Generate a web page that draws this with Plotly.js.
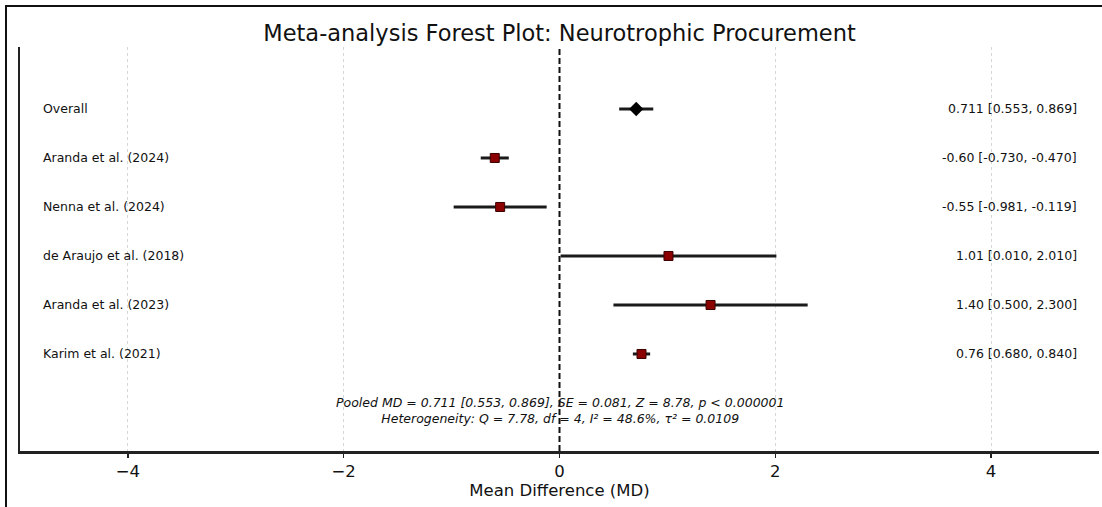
<!DOCTYPE html>
<html>
<head>
<meta charset="utf-8">
<script src="https://cdn.plot.ly/plotly-3.0.1.min.js"></script>
<style>
  html, body { margin: 0; padding: 0; background: #fff; overflow: hidden; }
  #wrap { position: relative; width: 1102px; height: 507px; }
  #chart { width: 1102px; height: 507px; }
  #frame { position: absolute; left: 5px; top: 5px; width: 1110px; height: 520px;
           border-left: 2px solid #111; border-top: 2px solid #111; pointer-events: none; }
</style>
</head>
<body>
<div id="wrap"><div id="chart"></div><div id="frame"></div></div>
<script>
// ---- data ----
const studies   = ["Overall", "Aranda et al. (2024)", "Nenna et al. (2024)", "de Araujo et al. (2018)", "Aranda et al. (2023)", "Karim et al. (2021)"];
const md        = [0.711, -0.60, -0.55, 1.01, 1.40, 0.76];
const ciLow     = [0.553, -0.730, -0.981, 0.010, 0.500, 0.680];
const ciHigh    = [0.869, -0.470, -0.119, 2.010, 2.300, 0.840];
const rightText = ["0.711 [0.553, 0.869]", "-0.60 [-0.730, -0.470]", "-0.55 [-0.981, -0.119]", "1.01 [0.010, 2.010]", "1.40 [0.500, 2.300]", "0.76 [0.680, 0.840]"];
const statsLines = ["Pooled MD = 0.711 [0.553, 0.869], SE = 0.081, Z = 8.78, p < 0.000001",
                    "Heterogeneity: Q = 7.78, df = 4, I² = 48.6%, τ² = 0.0109"];
const xTicks = [-4, -2, 0, 2, 4];
const xTickText = ["−4", "−2", "0", "2", "4"];
const gridVals = [-4, -2, 2, 4];

const rows = studies.map((_, i) => i);
const FONT = "DejaVu Sans, sans-serif";

const sIdx = rows.slice(1);
const studyTrace = {
  type: "scatter", mode: "markers",
  x: sIdx.map(i => md[i]), y: sIdx,
  error_x: { type: "data", symmetric: false,
             array: sIdx.map(i => ciHigh[i] - md[i]),
             arrayminus: sIdx.map(i => md[i] - ciLow[i]),
             color: "#1a1a1a", thickness: 3, width: 0 },
  marker: { symbol: "square", size: 9, color: "#8b0000", line: { color: "#3a0000", width: 1 } },
  hoverinfo: "skip", showlegend: false
};
const overallTrace = {
  type: "scatter", mode: "markers",
  x: [md[0]], y: [0],
  error_x: { type: "data", symmetric: false,
             array: [ciHigh[0] - md[0]], arrayminus: [md[0] - ciLow[0]],
             color: "#1a1a1a", thickness: 3, width: 0 },
  marker: { symbol: "diamond", size: 11, color: "#000" },
  hoverinfo: "skip", showlegend: false
};

const annotations = [];
studies.forEach((s, i) => {
  annotations.push({ x: -4.81, y: i, xref: "x", yref: "y", text: s, showarrow: false,
    xanchor: "left", yanchor: "middle", font: { family: FONT, size: 12.5, color: "#111" } });
  annotations.push({ x: 4.81, y: i, xref: "x", yref: "y", text: rightText[i], showarrow: false,
    xanchor: "right", yanchor: "middle", font: { family: FONT, size: 12.5, color: "#111" } });
});
annotations.push({ x: 0, y: 6.15, xref: "x", yref: "y",
  text: "<i>" + statsLines.join("<br>") + "</i>", showarrow: false,
  xanchor: "center", yanchor: "middle", align: "center",
  font: { family: FONT, size: 12.5, color: "#111" } });

const layout = {
  width: 1102, height: 507,
  margin: { l: 20, r: 3, t: 47, b: 56 },
  paper_bgcolor: "#fff", plot_bgcolor: "#fff",
  title: { text: "Meta-analysis Forest Plot: Neurotrophic Procurement",
           font: { family: FONT, size: 22.5, color: "#111" },
           x: 0.5, xanchor: "center", xref: "paper", y: 0.935, yref: "container", yanchor: "middle" },
  xaxis: {
    range: [-5, 5], tickvals: xTicks, ticktext: xTickText,
    showgrid: false,
    minor: { tickvals: gridVals, showgrid: true, gridcolor: "#d6d6d6", griddash: "dot", gridwidth: 1, ticks: "" },
    zeroline: false, showline: true, linecolor: "#222", linewidth: 2.5,
    ticks: "outside", ticklen: 4, tickcolor: "#222", tickwidth: 1.2,
    tickfont: { family: FONT, size: 16.5, color: "#111" },
    title: { text: "Mean Difference (MD)", font: { family: FONT, size: 16.5, color: "#111" }, standoff: 4 }
  },
  yaxis: {
    range: [6.98, -1.265], showticklabels: false, showgrid: false, zeroline: false,
    showline: true, linecolor: "#222", linewidth: 2, ticks: ""
  },
  shapes: [
    { type: "line", xref: "x", yref: "paper", x0: 0, x1: 0, y0: 0, y1: 1,
      line: { color: "#111", width: 2, dash: "6px,3px" }, layer: "between" }
  ],
  annotations: annotations
};

Plotly.newPlot("chart", [studyTrace, overallTrace], layout, { staticPlot: true, displayModeBar: false });
</script>
</body>
</html>
